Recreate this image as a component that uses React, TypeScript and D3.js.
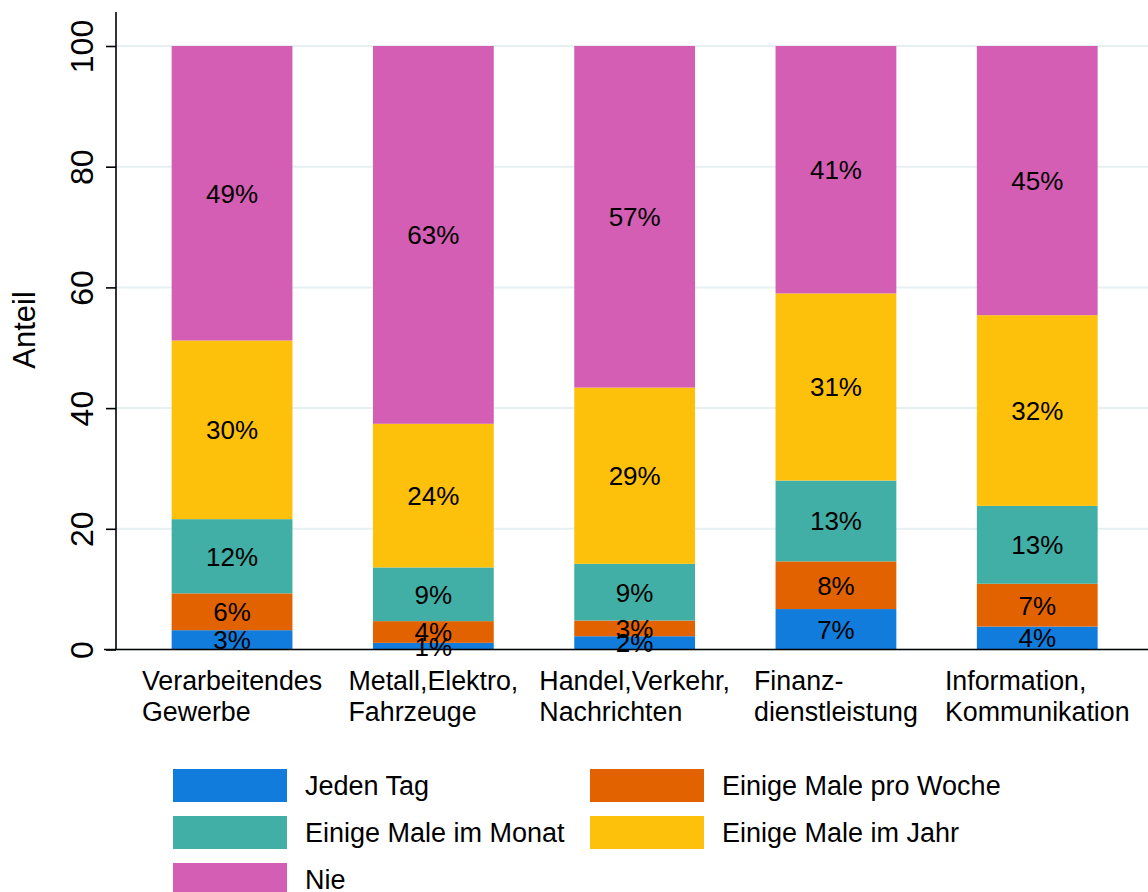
import React, { useEffect, useRef } from 'react';
import * as d3 from 'd3';

const categories = [
  ['Verarbeitendes', 'Gewerbe'],
  ['Metall,Elektro,', 'Fahrzeuge'],
  ['Handel,Verkehr,', 'Nachrichten'],
  ['Finanz-', 'dienstleistung'],
  ['Information,', 'Kommunikation'],
];

const seriesNames = [
  'Jeden Tag',
  'Einige Male pro Woche',
  'Einige Male im Monat',
  'Einige Male im Jahr',
  'Nie',
];

const jedenTag = [3.2, 1.1, 2.2, 6.7, 3.8];
const proWoche = [6.1, 3.6, 2.6, 7.9, 7.1];
const imMonat = [12.3, 8.9, 9.4, 13.4, 12.9];
const imJahr = [29.6, 23.8, 29.2, 31.0, 31.6];
const nie = [48.8, 62.6, 56.6, 41.0, 44.6];

const yTicks = [0, 20, 40, 60, 80, 100];

const colors = ['#117cdc', '#e36200', '#41afa5', '#fdc10c', '#d35eb3'];

const FONT = '"Liberation Sans", Arial, sans-serif';

export default function App() {
  const svgRef = useRef<SVGSVGElement>(null);

  useEffect(() => {
    const svg = d3.select(svgRef.current);
    svg.selectAll('*').remove();

    const series = [jedenTag, proWoche, imMonat, imJahr, nie];
    const rows = categories.map((c, i) => {
      const r: any = { key: String(i) };
      seriesNames.forEach((s, j) => (r[s] = series[j][i]));
      return r;
    });
    const stacked = d3.stack().keys(seriesNames)(rows);

    const x = d3
      .scaleBand()
      .domain(categories.map((_, i) => String(i)))
      .range([131.4, 1137.9])
      .paddingInner(0.4)
      .paddingOuter(0.2);

    const y = d3.scaleLinear().domain([0, 100]).range([649.5, 46]);

    // gridlines
    svg
      .append('g')
      .selectAll('line')
      .data(yTicks)
      .join('line')
      .attr('x1', 116)
      .attr('x2', 1148)
      .attr('y1', (d) => y(d))
      .attr('y2', (d) => y(d))
      .attr('stroke', '#e6eff1')
      .attr('stroke-width', 2);

    // bars
    svg
      .append('g')
      .selectAll('g')
      .data(stacked)
      .join('g')
      .attr('fill', (_, i) => colors[i])
      .selectAll('rect')
      .data((d) => d)
      .join('rect')
      .attr('x', (d: any) => x(d.data.key)!)
      .attr('width', x.bandwidth())
      .attr('y', (d) => y(d[1]))
      .attr('height', (d) => y(d[0]) - y(d[1]));

    // value labels
    svg
      .append('g')
      .selectAll('g')
      .data(stacked)
      .join('g')
      .selectAll('text')
      .data((d) => d)
      .join('text')
      .attr('x', (d: any) => x(d.data.key)! + x.bandwidth() / 2)
      .attr('y', (d) => y((d[0] + d[1]) / 2))
      .attr('dy', '0.36em')
      .attr('text-anchor', 'middle')
      .attr('font-family', FONT)
      .attr('font-size', 26)
      .attr('fill', '#000')
      .text((d) => `${Math.round(d[1] - d[0])}%`);

    // y axis
    const yAxis = svg
      .append('g')
      .attr('transform', 'translate(116,0)')
      .call(d3.axisLeft(y).tickValues(yTicks).tickSize(10).tickPadding(0));
    yAxis.select('.domain').remove();
    yAxis.selectAll('.tick line').attr('stroke', '#000').attr('stroke-width', 1.6);
    yAxis
      .selectAll('.tick text')
      .attr('font-family', FONT)
      .attr('font-size', 32)
      .attr('fill', '#000')
      .attr('x', 0)
      .attr('dy', 0)
      .attr('text-anchor', 'middle')
      .attr('transform', 'translate(-23,0) rotate(-90)');
    svg
      .append('line')
      .attr('x1', 116)
      .attr('x2', 116)
      .attr('y1', 12)
      .attr('y2', y(0))
      .attr('stroke', '#000')
      .attr('stroke-width', 1.6);

    // x axis line
    svg
      .append('line')
      .attr('x1', 104)
      .attr('x2', 1148)
      .attr('y1', y(0))
      .attr('y2', y(0))
      .attr('stroke', '#000')
      .attr('stroke-width', 1.6);

    // y title
    svg
      .append('text')
      .attr('transform', 'translate(35,330) rotate(-90)')
      .attr('text-anchor', 'middle')
      .attr('font-family', FONT)
      .attr('font-size', 31)
      .attr('fill', '#000')
      .text('Anteil');

    // category labels: block centred on bar, lines left-aligned
    categories.forEach((lines, i) => {
      const g = svg.append('g');
      const texts = lines.map((l, k) =>
        g
          .append('text')
          .attr('y', 690 + k * 31)
          .attr('font-family', FONT)
          .attr('font-size', 26.8)
          .attr('fill', '#000')
          .text(l)
      );
      const w = d3.max(texts, (t) => (t.node() as SVGTextElement).getComputedTextLength()) || 0;
      const cx = x(String(i))! + x.bandwidth() / 2;
      texts.forEach((t) => t.attr('x', cx - w / 2));
    });

    // legend
    const legend = svg.append('g');
    seriesNames.forEach((s, i) => {
      const col = i % 2;
      const row = Math.floor(i / 2);
      const lx = col === 0 ? 173 : 590;
      const ly = 769 + row * 47;
      legend
        .append('rect')
        .attr('x', lx)
        .attr('y', ly)
        .attr('width', 114)
        .attr('height', 33)
        .attr('fill', colors[i]);
      legend
        .append('text')
        .attr('x', lx + 132)
        .attr('y', ly + 16.5)
        .attr('dy', '0.36em')
        .attr('font-family', FONT)
        .attr('font-size', 27)
        .attr('fill', '#000')
        .text(s);
    });
  }, []);

  return (
    <svg
      ref={svgRef}
      width={1148}
      height={892}
      style={{ position: 'absolute', left: 0, top: 0, background: '#fff' }}
    />
  );
}
